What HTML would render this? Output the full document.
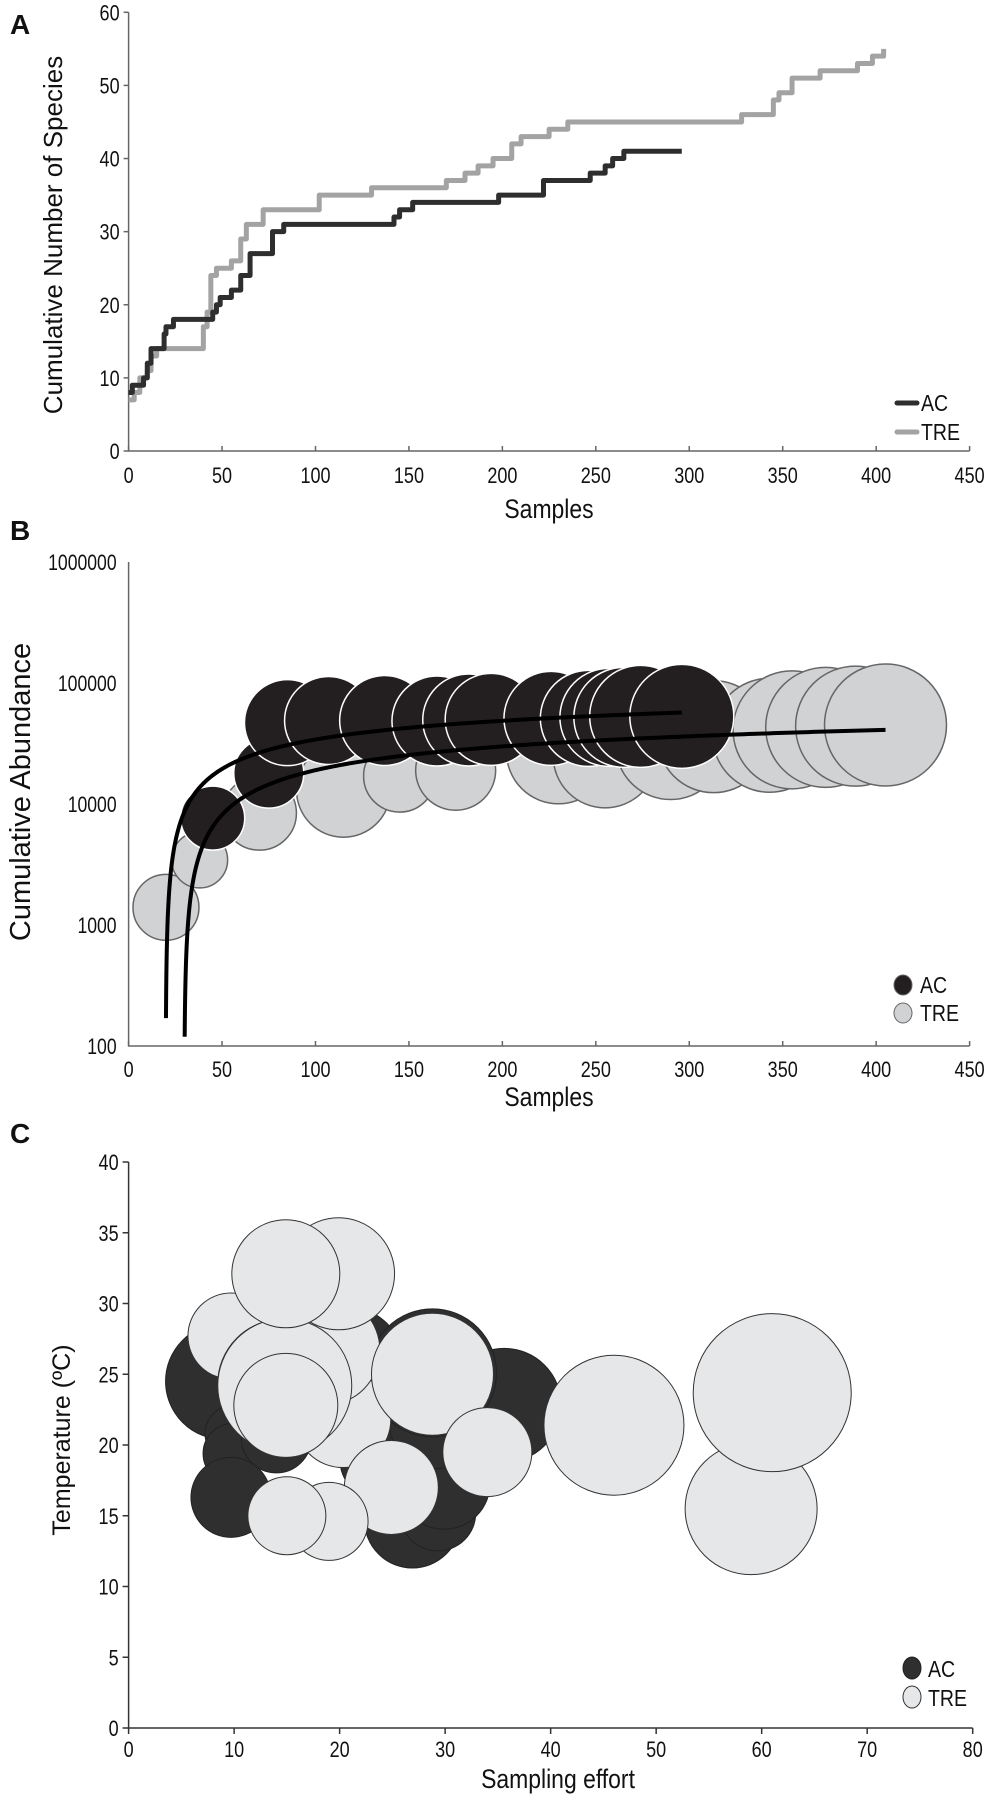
<!DOCTYPE html>
<html><head><meta charset="utf-8"><style>
html,body{margin:0;padding:0;background:#fff;}
svg{display:block;font-family:"Liberation Sans",Arial,sans-serif;}
</style></head><body>
<svg id="fig" width="992" height="1810" viewBox="0 0 992 1810" xmlns="http://www.w3.org/2000/svg">
<g id="pA"></g>
<g id="pB"></g>
<g id="pC"></g>
</svg>
<script>
// ---------- Panel A data ----------
const acStepX = [0,2,8,10,12,17,19,20,24,45,47,49,55,60,65,77,83,142,145,152,198,222,247,255,259,265,296];
const acStepY = [8,9,10,12,14,14,16,17,18,19,20,21,22,24,27,30,31,32,33,34,35,37,38,39,40,41,41];
const treStepX = [0,3,6,10,12,15,40,42,44,47,55,60,63,72,102,130,170,180,187,195,205,210,225,235,328,345,348,355,370,390,398,404];
const treStepY = [7,8,10,11,13,14,17,19,24,25,26,29,31,33,35,36,37,38,39,40,42,43,44,45,46,48,49,51,52,53,54,55];
const aXTicks = [0,50,100,150,200,250,300,350,400,450];
const aYTicks = [0,10,20,30,40,50,60];

// ---------- Panel B data ----------
const bTreX = [20,38,70,115,145,175,230,255,290,313,343,355,373,389,405];
const bTreY = [1400,3450,8400,13000,17000,19000,27000,25000,31000,36000,37000,41000,43000,44000,45000];
const bTreSize = [33,28,37,47,36,40,52,52,55,56,57,59,60,60,61];
const bAcX = [45,75,85,107,137,165,182,194,226,246,257,265,274,296];
const bAcY = [7650,18000,47000,49000,49000,48500,49500,50000,51000,51000,52000,52000,53000,53000];
const bAcSize = [32,35,43,44,45,45,46,46,47,48,49,50,51,52];
const bAcTrend = [21090,-63010,20,296];   // a, b, xStart, xEnd  (y = a ln x + b)
const bTreTrend = [15706,-53300,30,405];
const bXTicks = [0,50,100,150,200,250,300,350,400,450];
const bYTicks = [100,1000,10000,100000,1000000];

// ---------- Panel C data ----------
const cAcX = [9,9.9,9.9,9.7,14,21,35.6,26.9,29.3,29.9,24,29,28.8];
const cAcY = [24.5,20.8,19.4,16.3,20.5,26,22.8,14.7,15.2,17.3,19,21.5,25.1];
const cAcSize = [58,28,30,40,35,52,57,48,38,46,42,45,64];
const cTreX = [20.3,18.6,19.9,9.7,14.6,14.8,14.9,14.9,28.8,34,24.9,19,15,46,59,61];
const cTreY = [21.8,26.7,32.1,27.7,24.3,24.2,22.8,32.1,25.0,19.5,17.0,14.6,15.0,21.4,15.5,23.7];
const cTreSize = [48,55,56,43,65,67,52,54,61,44.5,47,39,39,70,66,79];
const cXTicks = [0,10,20,30,40,50,60,70,80];
const cYTicks = [0,5,10,15,20,25,30,35,40];

const NS = "http://www.w3.org/2000/svg";
function mk(parent, tag, attrs){
  const e = document.createElementNS(NS, tag);
  for (const k in attrs) e.setAttribute(k, attrs[k]);
  parent.appendChild(e);
  return e;
}
function txt(parent, x, y, s, size, anchor, sx, weight){
  const t = mk(parent, "text", {transform:`translate(${x},${y}) scale(${sx},1)`, "font-size":size, "text-anchor":anchor, fill:"#111"});
  if (weight) t.setAttribute("font-weight", weight);
  t.textContent = s;
  return t;
}

// ---------- Panel A ----------
(function(){
  const g = document.getElementById("pA");
  const X0=128.6, X1=969.6, Y0=451, Y1=12.3;
  const xs = v => X0 + v*(X1-X0)/450;
  const ys = v => Y0 - v*(Y0-Y1)/60;
  const l = txt(g, 10, 34, "A", 28, "start", 1, "bold");
  
  
  const ax = mk(g,"path",{d:`M${X0},${Y1} V${Y0} H${X1}`, stroke:"#666", fill:"none", "stroke-width":1.5});
  
  
  aXTicks.forEach(v=>{
    mk(g,"line",{x1:xs(v),x2:xs(v),y1:Y0,y2:Y0-5,stroke:"#666","stroke-width":1.5});
    const t = txt(g, xs(v), Y0+32, String(v), 22, "middle", 0.82);
    
    
  });
  aYTicks.forEach(v=>{
    mk(g,"line",{x1:X0-5,x2:X0,y1:ys(v),y2:ys(v),stroke:"#666","stroke-width":1.5});
    const t = txt(g, X0-9, ys(v)+8, String(v), 22, "end", 0.82);
    
    
  });
  function step(xa, ya, color, name){
    let d = `M${xs(xa[0])},${ys(ya[0])}`;
    for (let i=1;i<xa.length;i++){ d += ` H${xs(xa[i])} V${ys(ya[i])}`; }
    const p = mk(g,"path",{d, stroke:color, fill:"none","stroke-width":5,"stroke-linejoin":"round"});
    
    
  }
  step(treStepX, treStepY, "#a3a3a3", "tre-line");
  step(acStepX, acStepY, "#2e2e2e", "ac-line");
  const yt = mk(g,"text",{transform:"translate(62,235) rotate(-90)","font-size":26,"text-anchor":"middle",fill:"#111"});
  yt.textContent = "Cumulative Number of Species";
  
  
  const xt = txt(g, 549, 518, "Samples", 27, "middle", 0.85);
  
  
  const l1 = mk(g,"line",{x1:897,x2:917,y1:403,y2:403,stroke:"#2e2e2e","stroke-width":5,"stroke-linecap":"round"});
  
  
  const t1 = txt(g, 921, 411, "AC", 23, "start", 0.85);
  
  
  const l2 = mk(g,"line",{x1:897,x2:917,y1:432,y2:432,stroke:"#a3a3a3","stroke-width":5,"stroke-linecap":"round"});
  
  
  const t2 = txt(g, 921, 440, "TRE", 23, "start", 0.85);
  
  
})();

// ---------- Panel B ----------
(function(){
  const g = document.getElementById("pB");
  const X0=128.6, X1=969.6, Y0=1046, DEC=121;
  const xs = v => X0 + v*(X1-X0)/450;
  const ys = v => Y0 - (Math.log10(v)-2)*DEC;
  const l = txt(g, 10, 540, "B", 28, "start", 1, "bold");
  
  
  const ax = mk(g,"path",{d:`M${X0},${ys(1000000)} V${Y0} H${X1}`, stroke:"#666", fill:"none", "stroke-width":1.5});
  
  
  bXTicks.forEach(v=>{
    mk(g,"line",{x1:xs(v),x2:xs(v),y1:Y0,y2:Y0-5,stroke:"#666","stroke-width":1.5});
    const t = txt(g, xs(v), Y0+31, String(v), 22, "middle", 0.82);
    
    
  });
  bYTicks.forEach(v=>{
    const t = txt(g, X0-12, ys(v)+8, String(v), 22, "end", 0.8);
    
    
  });
  bTreX.forEach((v,i)=>{
    const c = mk(g,"circle",{cx:xs(v),cy:ys(bTreY[i]),r:bTreSize[i],fill:"#d1d2d4",stroke:"#666","stroke-width":1.5});
    
    
  });
  bAcX.forEach((v,i)=>{
    const c = mk(g,"circle",{cx:xs(v),cy:ys(bAcY[i]),r:bAcSize[i],fill:"#231f20",stroke:"#fff","stroke-width":1.5});
    
    
  });
  function trend(tr, name){
    let d="";
    for (let k=0;k<=300;k++){
      const x = tr[2] + (tr[3]-tr[2])*Math.pow(k/300,2);
      const y = Math.max(tr[0]*Math.log(x)+tr[1], 100);
      d += (k?" L":"M")+xs(x).toFixed(2)+","+ys(y).toFixed(2);
    }
    const p = mk(g,"path",{d, stroke:"#000", fill:"none","stroke-width":4});
    
    
  }
  trend(bAcTrend, "ac-trendline");
  trend(bTreTrend, "tre-trendline");
  const yt = mk(g,"text",{transform:"translate(30,792) rotate(-90)","font-size":29,"text-anchor":"middle",fill:"#111"});
  yt.textContent = "Cumulative Abundance";
  
  
  const xt = txt(g, 549, 1106, "Samples", 27, "middle", 0.85);
  
  
  const c1 = mk(g,"ellipse",{cx:903,cy:985,rx:9,ry:10,fill:"#231f20",stroke:"#666","stroke-width":1});
  
  
  const t1 = txt(g, 920, 993, "AC", 23, "start", 0.85);
  
  
  const c2 = mk(g,"ellipse",{cx:903,cy:1013,rx:9,ry:10,fill:"#d1d2d4",stroke:"#666","stroke-width":1});
  
  
  const t2 = txt(g, 920, 1021, "TRE", 23, "start", 0.85);
  
  
})();

// ---------- Panel C ----------
(function(){
  const g = document.getElementById("pC");
  const X0=128.6, X1=972.7, Y0=1728, Y1=1162;
  const xs = v => X0 + v*(X1-X0)/80;
  const ys = v => Y0 - v*(Y0-Y1)/40;
  const l = txt(g, 10, 1143, "C", 28, "start", 1, "bold");
  
  
  const ax = mk(g,"path",{d:`M${X0},${Y1} V${Y0} H${X1}`, stroke:"#333", fill:"none", "stroke-width":1.5});
  
  
  cXTicks.forEach(v=>{
    mk(g,"line",{x1:xs(v),x2:xs(v),y1:Y0,y2:Y0+6,stroke:"#333","stroke-width":1.5});
    const t = txt(g, xs(v), Y0+29, String(v), 22, "middle", 0.82);
    
    
  });
  cYTicks.forEach(v=>{
    mk(g,"line",{x1:X0-6,x2:X0,y1:ys(v),y2:ys(v),stroke:"#333","stroke-width":1.5});
    const t = txt(g, X0-10, ys(v)+8, String(v), 22, "end", 0.82);
    
    
  });
  cAcX.forEach((v,i)=>{
    const c = mk(g,"circle",{cx:xs(v),cy:ys(cAcY[i]),r:cAcSize[i],fill:"#2f2f2f",stroke:"#222","stroke-width":1});
    
    
  });
  cTreX.forEach((v,i)=>{
    const c = mk(g,"circle",{cx:xs(v),cy:ys(cTreY[i]),r:cTreSize[i],fill:"#e6e7e8",stroke:"#333","stroke-width":1});
    
    
  });
  const yt = mk(g,"text",{transform:"translate(70,1440) rotate(-90)","font-size":25,"text-anchor":"middle",fill:"#111"});
  yt.textContent = "Temperature (ºC)";
  
  
  const xt = txt(g, 558, 1788, "Sampling effort", 27, "middle", 0.85);
  
  
  const c1 = mk(g,"ellipse",{cx:912,cy:1668,rx:9,ry:11,fill:"#2f2f2f",stroke:"#222","stroke-width":1});
  
  
  const t1 = txt(g, 928, 1677, "AC", 23, "start", 0.85);
  
  
  const c2 = mk(g,"ellipse",{cx:912,cy:1697,rx:9,ry:11,fill:"#e6e7e8",stroke:"#333","stroke-width":1});
  
  
  const t2 = txt(g, 928, 1706, "TRE", 23, "start", 0.85);
  
  
})();
</script>
</body></html>
